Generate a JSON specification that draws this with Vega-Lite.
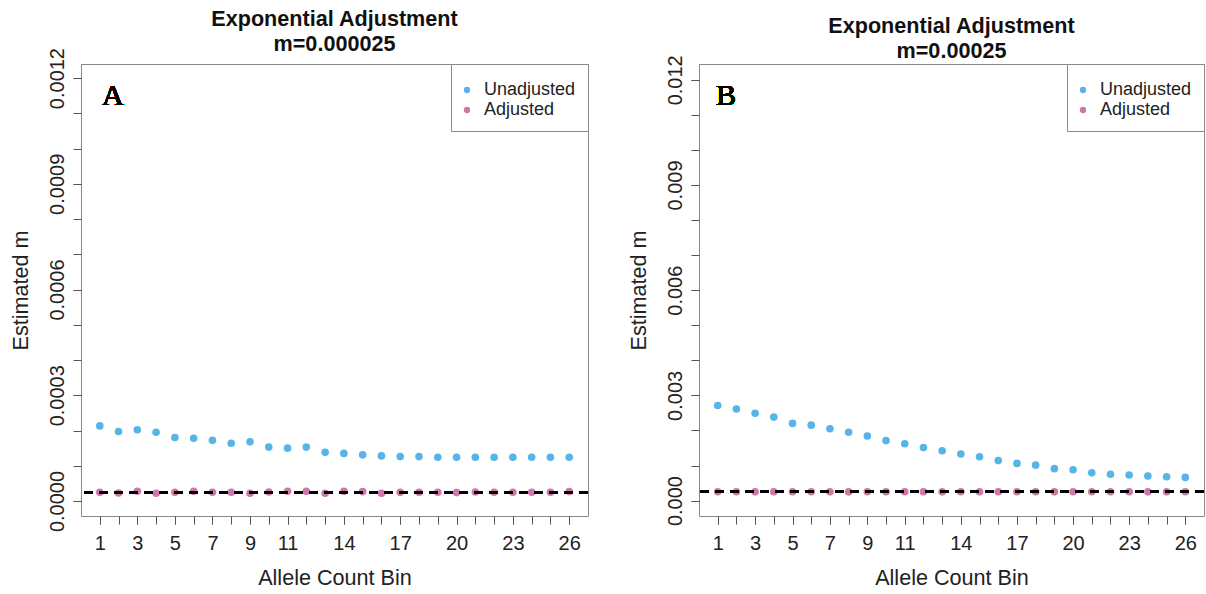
{
  "$schema": "https://vega.github.io/schema/vega-lite/v6.json",
  "background": "white",
  "padding": {"left": 9, "top": 8, "right": 0, "bottom": 0},
  "datasets": {
    "A": [
      {"bin": 1, "group": "Unadjusted", "value": 0.000213},
      {"bin": 2, "group": "Unadjusted", "value": 0.000197},
      {"bin": 3, "group": "Unadjusted", "value": 0.000202},
      {"bin": 4, "group": "Unadjusted", "value": 0.000195},
      {"bin": 5, "group": "Unadjusted", "value": 0.000180},
      {"bin": 6, "group": "Unadjusted", "value": 0.000178},
      {"bin": 7, "group": "Unadjusted", "value": 0.000172},
      {"bin": 8, "group": "Unadjusted", "value": 0.000164},
      {"bin": 9, "group": "Unadjusted", "value": 0.000168},
      {"bin": 10, "group": "Unadjusted", "value": 0.000153},
      {"bin": 11, "group": "Unadjusted", "value": 0.000150},
      {"bin": 12, "group": "Unadjusted", "value": 0.000153},
      {"bin": 13, "group": "Unadjusted", "value": 0.000138},
      {"bin": 14, "group": "Unadjusted", "value": 0.000135},
      {"bin": 15, "group": "Unadjusted", "value": 0.000131},
      {"bin": 16, "group": "Unadjusted", "value": 0.000128},
      {"bin": 17, "group": "Unadjusted", "value": 0.000126},
      {"bin": 18, "group": "Unadjusted", "value": 0.000126},
      {"bin": 19, "group": "Unadjusted", "value": 0.000124},
      {"bin": 20, "group": "Unadjusted", "value": 0.000124},
      {"bin": 21, "group": "Unadjusted", "value": 0.000124},
      {"bin": 22, "group": "Unadjusted", "value": 0.000124},
      {"bin": 23, "group": "Unadjusted", "value": 0.000124},
      {"bin": 24, "group": "Unadjusted", "value": 0.000124},
      {"bin": 25, "group": "Unadjusted", "value": 0.000124},
      {"bin": 26, "group": "Unadjusted", "value": 0.000124},
      {"bin": 1, "group": "Adjusted", "value": 0.0000247},
      {"bin": 2, "group": "Adjusted", "value": 0.0000228},
      {"bin": 3, "group": "Adjusted", "value": 0.0000275},
      {"bin": 4, "group": "Adjusted", "value": 0.0000219},
      {"bin": 5, "group": "Adjusted", "value": 0.0000247},
      {"bin": 6, "group": "Adjusted", "value": 0.0000275},
      {"bin": 7, "group": "Adjusted", "value": 0.0000247},
      {"bin": 8, "group": "Adjusted", "value": 0.0000247},
      {"bin": 9, "group": "Adjusted", "value": 0.0000219},
      {"bin": 10, "group": "Adjusted", "value": 0.0000256},
      {"bin": 11, "group": "Adjusted", "value": 0.0000275},
      {"bin": 12, "group": "Adjusted", "value": 0.0000275},
      {"bin": 13, "group": "Adjusted", "value": 0.0000219},
      {"bin": 14, "group": "Adjusted", "value": 0.0000275},
      {"bin": 15, "group": "Adjusted", "value": 0.0000266},
      {"bin": 16, "group": "Adjusted", "value": 0.0000219},
      {"bin": 17, "group": "Adjusted", "value": 0.0000247},
      {"bin": 18, "group": "Adjusted", "value": 0.0000247},
      {"bin": 19, "group": "Adjusted", "value": 0.0000247},
      {"bin": 20, "group": "Adjusted", "value": 0.0000238},
      {"bin": 21, "group": "Adjusted", "value": 0.0000256},
      {"bin": 22, "group": "Adjusted", "value": 0.0000247},
      {"bin": 23, "group": "Adjusted", "value": 0.0000247},
      {"bin": 24, "group": "Adjusted", "value": 0.0000247},
      {"bin": 25, "group": "Adjusted", "value": 0.0000247},
      {"bin": 26, "group": "Adjusted", "value": 0.0000266}
    ],
    "B": [
      {"bin": 1, "group": "Unadjusted", "value": 0.00271},
      {"bin": 2, "group": "Unadjusted", "value": 0.00261},
      {"bin": 3, "group": "Unadjusted", "value": 0.00249},
      {"bin": 4, "group": "Unadjusted", "value": 0.00238},
      {"bin": 5, "group": "Unadjusted", "value": 0.00220},
      {"bin": 6, "group": "Unadjusted", "value": 0.00215},
      {"bin": 7, "group": "Unadjusted", "value": 0.00205},
      {"bin": 8, "group": "Unadjusted", "value": 0.00195},
      {"bin": 9, "group": "Unadjusted", "value": 0.00184},
      {"bin": 10, "group": "Unadjusted", "value": 0.00171},
      {"bin": 11, "group": "Unadjusted", "value": 0.00162},
      {"bin": 12, "group": "Unadjusted", "value": 0.00151},
      {"bin": 13, "group": "Unadjusted", "value": 0.00142},
      {"bin": 14, "group": "Unadjusted", "value": 0.00133},
      {"bin": 15, "group": "Unadjusted", "value": 0.00125},
      {"bin": 16, "group": "Unadjusted", "value": 0.00114},
      {"bin": 17, "group": "Unadjusted", "value": 0.00106},
      {"bin": 18, "group": "Unadjusted", "value": 0.00101},
      {"bin": 19, "group": "Unadjusted", "value": 0.00091},
      {"bin": 20, "group": "Unadjusted", "value": 0.00088},
      {"bin": 21, "group": "Unadjusted", "value": 0.00079},
      {"bin": 22, "group": "Unadjusted", "value": 0.00075},
      {"bin": 23, "group": "Unadjusted", "value": 0.00073},
      {"bin": 24, "group": "Unadjusted", "value": 0.00070},
      {"bin": 25, "group": "Unadjusted", "value": 0.00068},
      {"bin": 26, "group": "Unadjusted", "value": 0.00066},
      {"bin": 1, "group": "Adjusted", "value": 0.000250},
      {"bin": 2, "group": "Adjusted", "value": 0.000251},
      {"bin": 3, "group": "Adjusted", "value": 0.000249},
      {"bin": 4, "group": "Adjusted", "value": 0.000250},
      {"bin": 5, "group": "Adjusted", "value": 0.000250},
      {"bin": 6, "group": "Adjusted", "value": 0.000251},
      {"bin": 7, "group": "Adjusted", "value": 0.000250},
      {"bin": 8, "group": "Adjusted", "value": 0.000249},
      {"bin": 9, "group": "Adjusted", "value": 0.000250},
      {"bin": 10, "group": "Adjusted", "value": 0.000250},
      {"bin": 11, "group": "Adjusted", "value": 0.000251},
      {"bin": 12, "group": "Adjusted", "value": 0.000250},
      {"bin": 13, "group": "Adjusted", "value": 0.000249},
      {"bin": 14, "group": "Adjusted", "value": 0.000250},
      {"bin": 15, "group": "Adjusted", "value": 0.000250},
      {"bin": 16, "group": "Adjusted", "value": 0.000250},
      {"bin": 17, "group": "Adjusted", "value": 0.000251},
      {"bin": 18, "group": "Adjusted", "value": 0.000250},
      {"bin": 19, "group": "Adjusted", "value": 0.000249},
      {"bin": 20, "group": "Adjusted", "value": 0.000250},
      {"bin": 21, "group": "Adjusted", "value": 0.000250},
      {"bin": 22, "group": "Adjusted", "value": 0.000251},
      {"bin": 23, "group": "Adjusted", "value": 0.000250},
      {"bin": 24, "group": "Adjusted", "value": 0.000249},
      {"bin": 25, "group": "Adjusted", "value": 0.000250},
      {"bin": 26, "group": "Adjusted", "value": 0.000250}
    ]
  },
  "spacing": 37,
  "resolve": {
    "scale": {"x": "independent", "y": "independent", "color": "shared"},
    "legend": {"color": "independent"}
  },
  "hconcat": [
    {
      "width": 507,
      "height": 452,
      "title": {"text": ["Exponential Adjustment", "m=0.000025"]},
      "data": {"name": "A"},
      "resolve": {"axis": {"x": "independent", "y": "independent"}},
      "layer": [
        {
          "mark": {"type": "circle", "size": 58, "opacity": 1},
          "encoding": {
            "x": {
              "field": "bin", "type": "quantitative",
              "scale": {"domain": [0, 27], "nice": false, "zero": false},
              "axis": {"orient": "bottom", "title": "Allele Count Bin", "values": [1, 3, 5, 7, 9, 11, 14, 17, 20, 23, 26]}
            },
            "y": {
              "field": "value", "type": "quantitative",
              "scale": {"domain": [-0.0000426, 0.00124], "nice": false, "zero": false},
              "axis": {"orient": "left", "title": "Estimated m", "values": [0, 0.0003, 0.0006, 0.0009, 0.0012], "format": ".4f"}
            },
            "color": {
              "field": "group", "type": "nominal",
              "scale": {"domain": ["Unadjusted", "Adjusted"], "range": ["#56B4E9", "#CC79A7"]},
              "legend": {"title": " "}
            }
          }
        },
        {
          "mark": {"type": "rule", "color": "black", "strokeWidth": 2.5, "strokeDash": [9, 6]},
          "encoding": {"y": {"datum": 0.000025, "axis": null}}
        },
        {
          "mark": {"type": "text", "font": "Liberation Serif", "fontSize": 30, "fontWeight": "normal", "align": "center", "baseline": "middle", "color": "black"},
          "encoding": {
            "x": {"datum": 1.7, "axis": {"orient": "bottom", "title": null, "labels": false, "values": [1,2,3,4,5,6,7,8,9,10,11,12,13,14,15,16,17,18,19,20,21,22,23,24,25,26]}},
            "y": {"datum": 0.00115, "axis": {"orient": "left", "title": null, "labels": false, "values": [0, 0.0001, 0.0002, 0.0003, 0.0004, 0.0005, 0.0006, 0.0007, 0.0008, 0.0009, 0.001, 0.0011, 0.0012]}},
            "text": {"value": "A"}
          }
        }
      ]
    },
    {
      "width": 505,
      "height": 452,
      "title": {"text": ["Exponential Adjustment", "m=0.00025"]},
      "data": {"name": "B"},
      "resolve": {"axis": {"x": "independent", "y": "independent"}},
      "layer": [
        {
          "mark": {"type": "circle", "size": 58, "opacity": 1},
          "encoding": {
            "x": {
              "field": "bin", "type": "quantitative",
              "scale": {"domain": [0, 27], "nice": false, "zero": false},
              "axis": {"orient": "bottom", "title": "Allele Count Bin", "values": [1, 3, 5, 7, 9, 11, 14, 17, 20, 23, 26]}
            },
            "y": {
              "field": "value", "type": "quantitative",
              "scale": {"domain": [-0.00044, 0.01245], "nice": false, "zero": false},
              "axis": {"orient": "left", "title": "Estimated m", "values": [0, 0.003, 0.006, 0.009, 0.012], "format": ".3f"}
            },
            "color": {
              "field": "group", "type": "nominal",
              "scale": {"domain": ["Unadjusted", "Adjusted"], "range": ["#56B4E9", "#CC79A7"]},
              "legend": {"title": " "}
            }
          }
        },
        {
          "mark": {"type": "rule", "color": "black", "strokeWidth": 2.5, "strokeDash": [9, 6]},
          "encoding": {"y": {"datum": 0.00025, "axis": null}}
        },
        {
          "mark": {"type": "text", "font": "Liberation Serif", "fontSize": 30, "fontWeight": "normal", "align": "center", "baseline": "middle", "color": "black"},
          "encoding": {
            "x": {"datum": 1.45, "axis": {"orient": "bottom", "title": null, "labels": false, "values": [1,2,3,4,5,6,7,8,9,10,11,12,13,14,15,16,17,18,19,20,21,22,23,24,25,26]}},
            "y": {"datum": 0.01155, "axis": {"orient": "left", "title": null, "labels": false, "values": [0, 0.001, 0.002, 0.003, 0.004, 0.005, 0.006, 0.007, 0.008, 0.009, 0.01, 0.011, 0.012]}},
            "text": {"value": "B"}
          }
        }
      ]
    }
  ],
  "config": {
    "view": {"stroke": "#888", "strokeWidth": 1},
    "font": "Liberation Sans",
    "title": {"font": "Liberation Sans", "fontSize": 21.6, "fontWeight": "bold", "color": "#111", "lineHeight": 25, "offset": -8, "frame": "group", "anchor": "middle"},
    "axis": {
      "domain": false, "grid": false, "tickColor": "#555", "tickSize": 8,
      "labelFont": "Liberation Sans", "labelFontSize": 20, "labelColor": "#222",
      "titleFont": "Liberation Sans", "titleFontSize": 21.6, "titleFontWeight": "normal", "titleColor": "#222",
      "labelOverlap": false, "labelFlush": false
    },
    "axisY": {"labelAngle": -90, "labelAlign": "center", "labelBaseline": "bottom", "labelPadding": 6, "titlePadding": 15},
    "axisX": {"labelPadding": 9, "titlePadding": 14},
    "legend": {
      "orient": "top-right", "offset": 0, "fillColor": "white", "strokeColor": "#888",
      "padding": 12, "labelFont": "Liberation Sans", "labelFontSize": 18, "labelColor": "#222",
      "titleFontSize": 2, "titlePadding": 3,
      "symbolSize": 40, "symbolType": "circle", "symbolOffset": -5, "labelOffset": 8, "rowPadding": 2
    }
  }
}
